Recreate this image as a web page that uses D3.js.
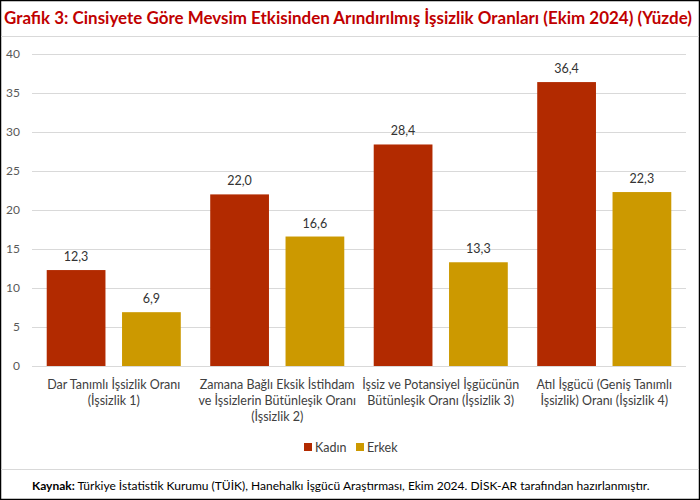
<!DOCTYPE html>
<html><head><meta charset="utf-8">
<script src="https://cdn.jsdelivr.net/npm/d3@7/dist/d3.min.js"></script>
<style>body{margin:0;background:#fff}svg{display:block}</style>
</head><body><svg id="c" width="700" height="500"></svg>
<script>
const categories = [
  ["Dar Tanımlı İşsizlik Oranı", "(İşsizlik 1)"],
  ["Zamana Bağlı Eksik İstihdam", "ve İşsizlerin Bütünleşik Oranı", "(İşsizlik 2)"],
  ["İşsiz ve Potansiyel İşgücünün", "Bütünleşik Oranı (İşsizlik 3)"],
  ["Atıl İşgücü (Geniş Tanımlı", "İşsizlik) Oranı (İşsizlik 4)"]
];
const seriesNames = ["Kadın", "Erkek"];
const kadin = [12.3, 22.0, 28.4, 36.4];
const erkek = [6.9, 16.6, 13.3, 22.3];
const yTicks = [0, 5, 10, 15, 20, 25, 30, 35, 40];
const colors = ["#B22A00", "#CC9900"];

const svg = d3.select("#c");
const font = "Lato, 'Open Sans', sans-serif";

// frame
svg.append("rect").attr("x",0.5).attr("y",0.5).attr("width",699).attr("height",499)
  .attr("fill","#fff").attr("stroke","#000").attr("stroke-width",1.5);
svg.append("line").attr("x1",1).attr("x2",699).attr("y1",36.5).attr("y2",36.5).attr("stroke","#d9d9d9");
svg.append("line").attr("x1",1).attr("x2",699).attr("y1",469.5).attr("y2",469.5).attr("stroke","#d9d9d9");

// title
svg.append("text").attr("x",4).attr("y",24)
  .attr("font-family",font).attr("font-weight","bold").attr("font-size",16.5)
  .attr("fill","#C00000")
  .attr("textLength",688).attr("lengthAdjust","spacingAndGlyphs")
  .text("Grafik 3: Cinsiyete Göre Mevsim Etkisinden Arındırılmış İşsizlik Oranları (Ekim 2024) (Yüzde)");

const x0 = d3.scaleBand().domain(d3.range(categories.length)).range([32, 686]).paddingInner(0.18).paddingOuter(0.09);
const x1 = d3.scaleBand().domain(seriesNames).range([0, x0.bandwidth()]).paddingInner(0.22);
const y = d3.scaleLinear().domain([0, 40]).range([366, 54]);

// grid
svg.append("g").selectAll("line").data(yTicks).join("line")
  .attr("x1",32).attr("x2",686).attr("y1",d=>Math.round(y(d))+0.5).attr("y2",d=>Math.round(y(d))+0.5)
  .attr("stroke","#d9d9d9");

// y labels
const yAxis = d3.axisLeft(y).tickValues(yTicks).tickSize(0).tickPadding(0);
const gy = svg.append("g").attr("transform","translate(20,0)").call(yAxis);
gy.select(".domain").remove();
gy.selectAll("text").attr("font-family",font).attr("font-size",12).attr("fill","#595959");

const data = [kadin, erkek];
const groups = svg.append("g").selectAll("g").data(seriesNames).join("g").attr("fill",(d,i)=>colors[i]);
groups.selectAll("rect").data((s,si)=>data[si].map((v,ci)=>({s,v,ci}))).join("rect")
  .attr("x",d=>x0(d.ci)+x1(d.s)).attr("width",x1.bandwidth())
  .attr("y",d=>y(d.v)).attr("height",d=>y(0)-y(d.v));

// value labels
const fmt = v => v.toFixed(1).replace(".", ",");
groups.selectAll("text").data((s,si)=>data[si].map((v,ci)=>({s,v,ci}))).join("text")
  .attr("x",d=>x0(d.ci)+x1(d.s)+x1.bandwidth()/2).attr("y",d=>y(d.v)-9)
  .attr("text-anchor","middle").attr("font-family",font).attr("font-size",12.5).attr("fill","#333")
  .text(d=>fmt(d.v));

// category labels
const cg = svg.append("g");
categories.forEach((lines,i)=>{
  const t = cg.append("text").attr("x",x0(i)+x0.bandwidth()/2).attr("y",389)
    .attr("text-anchor","middle").attr("font-family",font).attr("font-size",12.5).attr("fill","#404040");
  lines.forEach((l,j)=>t.append("tspan").attr("x",x0(i)+x0.bandwidth()/2).attr("dy",j?16:0).text(l));
});

// legend
const lg = svg.append("g").attr("font-family",font).attr("font-size",12.5).attr("fill","#404040");
const lx = [304, 356];
seriesNames.forEach((n,i)=>{
  lg.append("rect").attr("x",lx[i]).attr("y",443).attr("width",8).attr("height",8).attr("fill",colors[i]);
  lg.append("text").attr("x",lx[i]+11).attr("y",451.5).text(n);
});

// footer
const ft = svg.append("text").attr("x",32).attr("y",490).attr("font-family",font).attr("font-size",12).attr("fill","#000");
ft.append("tspan").attr("font-weight","bold").text("Kaynak:");
ft.append("tspan").text(" Türkiye İstatistik Kurumu (TÜİK), Hanehalkı İşgücü Araştırması, Ekim 2024. DİSK-AR tarafından hazırlanmıştır.");
</script></body></html>
